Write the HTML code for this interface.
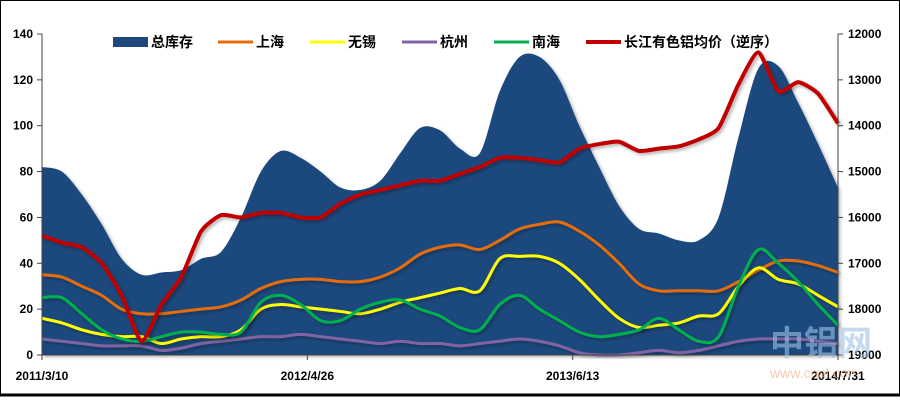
<!DOCTYPE html>
<html><head><meta charset="utf-8"><style>
body{margin:0;background:#fff;}
svg text{font-family:"Liberation Sans","Noto Sans CJK SC",sans-serif;font-weight:bold;fill:#000;}
</style></head><body>
<svg id="chart" width="900" height="401" viewBox="0 0 900 401" xmlns="http://www.w3.org/2000/svg">
<defs><filter id="sh" x="-5%" y="-5%" width="110%" height="120%"><feDropShadow dx="2" dy="2" stdDeviation="1.5" flood-color="#000" flood-opacity="0.3"/></filter></defs>
<rect x="0.5" y="0.5" width="899" height="394" fill="#fff" stroke="#000" stroke-width="1"/>
<line x1="0" y1="395" x2="900" y2="395" stroke="#000" stroke-width="3"/>
<g id="plot"></g>
<g id="axes"></g>
<g id="legend"></g>
<text x="770" y="355" font-size="34" style="fill:#9fc3e6;opacity:0.6">中铝网</text>
<text x="770" y="378" font-size="14" style="fill:#f4b48a;opacity:0.7;font-weight:normal">www.cnal.com</text>
</svg>
<script>
const dates=["2011/3/10","2012/4/26","2013/6/13","2014/7/31"];
const leftTicks=[0,20,40,60,80,100,120,140];
const rightTicks=[12000,13000,14000,15000,16000,17000,18000,19000];
const total=[82,80,70,57,42,35,36,37,42,45,60,80,89,86,80,73,72,76,88,99,98,90,88,115,130,130,120,100,82,65,55,53,50,50,60,95,125,126,110,92,73];
const shanghai=[35,34,30,26,20,18,18,19,20,21,24,29,32,33,33,32,32,34,38,44,47,48,46,50,55,57,58,54,48,40,31,28,28,28,28,32,37,41,41,39,36];
const wuxi=[16,14,11,9,8,8,5,7,8,8,11,20,22,21,20,19,18,20,23,25,27,29,28,42,43,43,40,33,24,16,12,13,14,17,18,30,38,33,31,26,21];
const hangzhou=[7,6,5,4,4,4,2,3,5,6,7,8,8,9,8,7,6,5,6,5,5,4,5,6,7,6,4,1,0,0,1,2,1,2,4,6,7,7,7,6,5];
const nanhai=[25,25,18,11,7,6,8,10,10,9,10,23,26,22,15,15,20,23,24,20,17,12,11,22,26,20,15,10,8,9,11,16,11,6,8,30,46,40,32,22,13];
const price=[16400,16550,16650,17000,17700,18700,17900,17300,16300,15950,16000,15900,15900,16000,16000,15700,15500,15400,15300,15200,15200,15050,14900,14700,14700,14750,14800,14500,14400,14350,14550,14500,14450,14300,14050,13100,12400,13250,13050,13300,13950];
const X0=42,X1=838,Y0=355,Y1=34;
const n=total.length;
const xs=i=>X0+(X1-X0)*i/(n-1);
const yl=v=>Y0-(v/140)*(Y0-Y1);
const yr=v=>Y1+((v-12000)/7000)*(Y0-Y1);
const NS="http://www.w3.org/2000/svg";
const plot=document.getElementById('plot'),axes=document.getElementById('axes'),legend=document.getElementById('legend');
function mk(tag,attrs,parent){const e=document.createElementNS(NS,tag);for(const k in attrs)e.setAttribute(k,attrs[k]);parent.appendChild(e);return e;}
function smooth(pts,t){
 let d='';
 for(let i=0;i<pts.length-1;i++){
  const p0=pts[Math.max(0,i-1)],p1=pts[i],p2=pts[i+1],p3=pts[Math.min(pts.length-1,i+2)];
  const c1=[p1[0]+(p2[0]-p0[0])*t,p1[1]+(p2[1]-p0[1])*t];
  const c2=[p2[0]-(p3[0]-p1[0])*t,p2[1]-(p3[1]-p1[1])*t];
  d+=` C${c1[0]},${c1[1]} ${c2[0]},${c2[1]} ${p2[0]},${p2[1]}`;
 }
 return d;
}
// area
const ap=total.map((v,i)=>[xs(i),yl(v)]);
let d=`M${xs(0)},${Y0} L${ap[0][0]},${ap[0][1]}`+smooth(ap,0.16)+` L${xs(n-1)},${Y0} Z`;
const area=mk('path',{d:d,fill:'#1f497d',filter:'url(#sh)'},plot);


function line(arr,fy,color,w,name,t){
 const pts=arr.map((v,i)=>[xs(i),fy(v)]);
 const p=mk('path',{d:`M${pts[0][0]},${pts[0][1]}`+smooth(pts,t),fill:'none',stroke:color,'stroke-width':w,'stroke-linejoin':'round',filter:'url(#sh)'},plot);
 
 
}
line(shanghai,yl,'#e46c0a',3,'shanghai-line',0.16);
line(hangzhou,yl,'#8064a2',3,'hangzhou-line',0.16);
line(wuxi,yl,'#ffff00',3,'wuxi-line',0.16);
line(nanhai,yl,'#00b050',3,'nanhai-line',0.16);
line(price,yr,'#c00000',4,'price-line',0.1);
// axes
let a=mk('line',{x1:X0,y1:Y1,x2:X0,y2:Y0,stroke:'#444'},axes);

a=mk('line',{x1:X1,y1:Y1,x2:X1,y2:Y0,stroke:'#444'},axes);

a=mk('line',{x1:X0,y1:Y0,x2:X1,y2:Y0,stroke:'#444'},axes);

leftTicks.forEach(v=>{mk('line',{x1:X0-5,y1:yl(v),x2:X0,y2:yl(v),stroke:'#444'},axes);
 const t=mk('text',{x:X0-9,y:yl(v)+4,'font-size':12,'text-anchor':'end'},axes);t.textContent=v;
 });
rightTicks.forEach(v=>{mk('line',{x1:X1,y1:yr(v),x2:X1+5,y2:yr(v),stroke:'#444'},axes);
 const t=mk('text',{x:X1+10,y:yr(v)+4,'font-size':12},axes);t.textContent=v;
 });
dates.forEach((s,i)=>{const x=X0+(X1-X0)*i/(dates.length-1);
 mk('line',{x1:x,y1:Y0,x2:x,y2:Y0+5,stroke:'#444'},axes);
 const t=mk('text',{x:x,y:380,'font-size':12,'text-anchor':'middle'},axes);t.textContent=s;
 });
// legend
const legItems=[["总库存","#1f497d",10,113],["上海","#e46c0a",3,218],["无锡","#ffff00",3,310],["杭州","#8064a2",3,402],["南海","#00b050",3,494],["长江有色铝均价（逆序）","#c00000",4,586]];
legItems.forEach(([lab,c,w,x])=>{
 const g=mk('g',{},legend);
 
 mk('line',{x1:x,y1:42,x2:x+35,y2:42,stroke:c,'stroke-width':w},g);
 const t=mk('text',{x:x+38,y:47,'font-size':14},g);t.textContent=lab;
});
</script>
</body></html>
